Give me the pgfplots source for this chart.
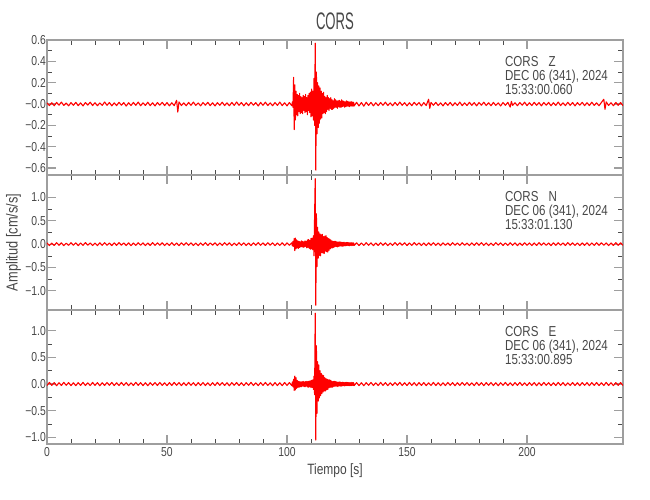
\documentclass[border=0pt]{standalone}
\usepackage{fontspec}
\setmainfont[FakeStretch=0.8]{Liberation Sans}
\newfontfamily\titlefont[FakeStretch=0.55]{Liberation Sans}
\usepackage{pgfplots}
\pgfplotsset{compat=1.18}

\definecolor{axgray}{gray}{0.62}
\definecolor{txtgray}{gray}{0.28}

\pgfplotsset{
  seis/.style={
    scale only axis, width=576bp, height=135bp,
    xmin=0, xmax=240,
    xtick={0,50,100,150,200}, minor x tick num=4,
    minor y tick num=1,
    axis line style={draw=axgray, line width=1.2bp},
    major tick length=9bp, minor tick length=5bp,
    major tick style={draw=axgray, line width=1.2bp},
    minor tick style={draw=black!70, line width=0.6bp},
    tick label style={font=\fontsize{13}{15}\selectfont, text=txtgray},
    yticklabel style={inner xsep=1bp},
    xlabel style={font=\fontsize{15}{17}\selectfont, text=txtgray},
    ylabel style={font=\fontsize{16}{18}\selectfont, text=txtgray},
    /pgf/number format/assume math mode=true,
  },
  trace/.style={red, line width=1.1bp, line join=round, mark=none},
}
\tikzset{stamp/.style={anchor=base west, inner sep=0pt, text=txtgray, font=\fontsize{14.5}{16}\selectfont}}

\begin{document}
\begin{tikzpicture}
\useasboundingbox (-47bp,40bp) rectangle (603bp,-460bp);

% --- Z component
\begin{axis}[seis, at={(0,0)}, anchor=north west,
  ymin=-0.665, ymax=0.6,
  ytick={-0.6,-0.4,-0.2,0,0.2,0.4,0.6},
  yticklabels={−0.6,−0.4,−0.2,−0.0,0.2,0.4,0.6},
  xticklabels={},
  title={CORS},
  title style={font=\titlefont\fontsize{24}{26}\selectfont, text=txtgray, inner sep=1bp, yshift=3bp}]
\addplot[trace] coordinates {
(0,.010) (1,-.014) (2,.012) (3,-.016) (4,.015) (5,-.011) (6,.018) (7,-.013) (8,.009) (9,-.017)
(10,.013) (11,-.012) (12,.016) (13,-.015) (14,.011) (15,-.018) (16,.014) (17,-.010) (18,.017) (19,-.014)
(20,.012) (21,-.016) (22,.010) (23,-.013) (24,.019) (25,-.012) (26,.014) (27,-.017) (28,.011) (29,-.015)
(30,.016) (31,-.011) (32,.013) (33,-.019) (34,.012) (35,-.014) (36,.015) (37,-.012) (38,.018) (39,-.016)
(40,.011) (41,-.013) (42,.017) (43,-.015) (44,.012) (45,-.018) (46,.014) (47,-.011) (48,.016) (49,-.014)
(50,.013) (51,-.017) (52,.012) (53,-.015) (54,.035) (54.5,-.075) (55,.02) (56,-.014) (57,.011) (58,-.016) (59,.015)
(60,-.012) (61,.018) (62,-.013) (63,.010) (64,-.017) (65,.014) (66,-.011) (67,.016) (68,-.015) (69,.012)
(70,-.018) (71,.013) (72,-.012) (73,.017) (74,-.014) (75,.011) (76,-.016) (77,.015) (78,-.013) (79,.019)
(80,-.012) (81,.014) (82,-.017) (83,.012) (84,-.015) (85,.016) (86,-.011) (87,.013) (88,-.018) (89,.015)
(90,-.012) (91,.017) (92,-.014) (93,.011) (94,-.016) (95,.014) (96,-.013) (97,.018) (98,-.015) (99,.012)
(100,-.017) (101,.014) (102,-.016)
(102.25,.02) (102.5,-.03) (102.75,.25) (103,-.24) (103.25,.18) (103.5,-.15) (103.75,.12) (104,-.10)
(104.25,.09) (104.5,-.11) (104.75,.08) (105,-.07) (105.25,.10) (105.5,-.09) (105.75,.07) (106,-.08)
(106.25,.06) (106.5,-.09) (106.75,.08) (107,-.06) (107.25,.07) (107.5,-.08) (107.75,.09) (108,-.07)
(108.25,.06) (108.5,-.10) (108.75,.08) (109,-.06) (109.25,.10) (109.5,-.08) (109.75,.11) (110,-.12)
(110.25,.14) (110.5,-.11) (110.75,.12) (111,-.15) (111.25,.24) (111.5,-.20) (111.75,.57) (112,-.62)
(112.25,.30) (112.5,-.28) (112.75,.20) (113,-.22) (113.25,.17) (113.5,-.18) (113.75,.15) (114,-.14)
(114.25,.12) (114.5,-.13) (114.75,.10) (115,-.09) (115.25,.11) (115.5,-.08) (115.75,.07) (116,-.09)
(116.25,.06) (116.5,-.07) (116.75,.08) (117,-.05) (117.25,.06) (117.5,-.06) (117.75,.05) (118,-.04)
(118.25,.06) (118.5,-.05) (118.75,.04) (119,-.05) (119.25,.03) (119.5,-.04) (119.75,.05) (120,-.03)
(120.25,.04) (120.5,-.03) (120.75,.03) (121,-.04) (121.25,.03) (121.5,-.025) (121.75,.035) (122,-.03)
(122.25,.025) (122.5,-.03) (122.75,.04) (123,-.025) (123.25,.03) (123.5,-.02) (123.75,.025) (124,-.03)
(124.25,.02) (124.5,-.025) (124.75,.03) (125,-.02) (125.25,.025) (125.5,-.02) (125.75,.02) (126,-.025)
(126.25,.02) (126.5,-.018) (126.75,.022) (127,-.02) (127.25,.018) (127.5,-.02) (127.75,.017) (128,-.018)
(129,.016) (130,-.018) (131,.014) (132,-.020) (133,.017) (134,-.013) (135,.015) (136,-.017) (137,.012) (138,-.015)
(139,.014) (140,-.012) (141,.017) (142,-.014) (143,.011) (144,-.016) (145,.015) (146,-.013) (147,.018) (148,-.012)
(149,.013) (150,-.017) (151,.012) (152,-.015) (153,.016) (154,-.011) (155,.014) (156,-.018) (157,.013) (158,-.014)
(159,.045) (159.5,-.04) (160,.015) (161,-.012) (162,.016) (163,-.014) (164,.011) (165,-.017) (166,.014) (167,-.012)
(168,.015) (169,-.016) (170,.012) (171,-.013) (172,.018) (173,-.015) (174,.011) (175,-.014) (176,.016) (177,-.012)
(178,.013) (179,-.017) (180,.014) (181,-.011) (182,.017) (183,-.014) (184,.012) (185,-.016) (186,.015) (187,-.013)
(188,.011) (189,-.018) (190,.014) (191,-.012) (192,.016) (193,-.028) (193.5,.025) (194,-.013) (195,.012) (196,-.016)
(197,.014) (198,-.011) (199,.017) (200,-.015) (201,.012) (202,-.014) (203,.016) (204,-.012) (205,.013) (206,-.017)
(207,.014) (208,-.011) (209,.015) (210,-.016) (211,.012) (212,-.013) (213,.018) (214,-.014) (215,.011) (216,-.015)
(217,.016) (218,-.012) (219,.014) (220,-.017) (221,.013) (222,-.011) (223,.016) (224,-.015) (225,.012) (226,-.014)
(227,.017) (228,-.013) (229,.011) (230,-.016) (231,.014) (232,.045) (232.5,-.05) (233,.02) (234,-.013) (235,.012)
(236,-.016) (237,.015) (238,-.012) (239,.014) (240,-.015)
};
\node[stamp] at (rel axis cs:0.795,1) [yshift=-26bp] {CORS\hspace{10bp}Z};
\node[stamp] at (rel axis cs:0.795,1) [yshift=-40bp] {DEC 06 (341), 2024};
\node[stamp] at (rel axis cs:0.795,1) [yshift=-54bp] {15:33:00.060};
\end{axis}

% --- N component
\begin{axis}[seis, at={(0,-135bp)}, anchor=north west,
  ymin=-1.41, ymax=1.48,
  ytick={-1,-0.5,0,0.5,1},
  yticklabels={−1.0,−0.5,0.0,0.5,1.0},
  xticklabels={},
  ylabel={Amplitud [cm/s/s]}]
\addplot[trace] coordinates {
(0,.025) (1,-.030) (2,.022) (3,-.028) (4,.032) (5,-.024) (6,.027) (7,-.033) (8,.021) (9,-.026)
(10,.030) (11,-.023) (12,.028) (13,-.031) (14,.024) (15,-.027) (16,.033) (17,-.022) (18,.026) (19,-.029)
(20,.023) (21,-.032) (22,.029) (23,-.025) (24,.031) (25,-.024) (26,.022) (27,-.030) (28,.027) (29,-.026)
(30,.032) (31,-.023) (32,.025) (33,-.029) (34,.028) (35,-.033) (36,.024) (37,-.027) (38,.030) (39,-.022)
(40,.026) (41,-.031) (42,.023) (43,-.028) (44,.033) (45,-.025) (46,.027) (47,-.024) (48,.029) (49,-.030)
(50,.022) (51,-.027) (52,.031) (53,-.026) (54,.024) (55,-.032) (56,.028) (57,-.023) (58,.030) (59,-.025)
(60,.027) (61,-.029) (62,.023) (63,-.031) (64,.026) (65,-.024) (66,.032) (67,-.028) (68,.025) (69,-.022)
(70,.029) (71,-.030) (72,.024) (73,-.026) (74,.031) (75,-.023) (76,.028) (77,-.033) (78,.022) (79,-.027)
(80,.030) (81,-.025) (82,.026) (83,-.029) (84,.023) (85,-.031) (86,.027) (87,-.024) (88,.032) (89,-.026)
(90,.025) (91,-.028) (92,.030) (93,-.023) (94,.027) (95,-.032) (96,.024) (97,-.026) (98,.029) (99,-.031)
(100,.026) (101,-.024) (102,.030)
(102.25,-.04) (102.5,.06) (102.75,-.05) (103,.12) (103.25,-.14) (103.5,.13) (103.75,-.10) (104,.09)
(104.25,-.08) (104.5,.07) (104.75,-.09) (105,.06) (105.25,-.07) (105.5,.05) (105.75,-.06) (106,.07)
(106.25,-.05) (106.5,.06) (106.75,-.07) (107,.05) (107.25,-.06) (107.5,.07) (107.75,-.05) (108,.06)
(108.25,-.08) (108.5,.09) (108.75,-.07) (109,.10) (109.25,-.09) (109.5,.08) (109.75,-.11) (110,.12)
(110.25,-.10) (110.5,.13) (110.75,-.12) (111,.18) (111.25,-.25) (111.5,.60) (111.75,1.40) (112,-1.31)
(112.25,.65) (112.5,-.48) (112.75,.36) (113,-.30) (113.25,.26) (113.5,-.24) (113.75,.22) (114,-.25)
(114.25,.20) (114.5,-.18) (114.75,.21) (115,-.19) (115.25,.16) (115.5,-.20) (115.75,.17) (116,-.15)
(116.25,.18) (116.5,-.16) (116.75,.14) (117,-.17) (117.25,.12) (117.5,-.13) (117.75,.11) (118,-.10)
(118.25,.09) (118.5,-.08) (118.75,.07) (119,-.08) (119.25,.06) (119.5,-.07) (119.75,.06) (120,-.05)
(120.25,.06) (120.5,-.05) (120.75,.05) (121,-.06) (121.25,.04) (121.5,-.05) (121.75,.05) (122,-.04)
(122.25,.045) (122.5,-.04) (122.75,.04) (123,-.045) (123.25,.035) (123.5,-.04) (123.75,.04) (124,-.035)
(124.25,.03) (124.5,-.035) (124.75,.035) (125,-.03) (125.25,.035) (125.5,-.03) (125.75,.03) (126,-.035)
(126.25,.03) (126.5,-.028) (126.75,.03) (127,-.03) (127.25,.027) (127.5,-.03) (127.75,.028) (128,-.027)
(129,.028) (130,-.030) (131,.024) (132,-.027) (133,.031) (134,-.025) (135,.026) (136,-.032) (137,.023) (138,-.028) (139,.030)
(140,-.024) (141,.027) (142,-.031) (143,.022) (144,-.026) (145,.033) (146,-.025) (147,.028) (148,-.023) (149,.029)
(150,-.030) (151,.024) (152,-.027) (153,.032) (154,-.022) (155,.026) (156,-.029) (157,.025) (158,-.031) (159,.027)
(160,-.024) (161,.030) (162,-.026) (163,.023) (164,-.032) (165,.028) (166,-.025) (167,.024) (168,-.029) (169,.031)
(170,-.023) (171,.026) (172,-.028) (173,.030) (174,-.025) (175,.022) (176,-.031) (177,.027) (178,-.026) (179,.029)
(180,-.024) (181,.032) (182,-.027) (183,.025) (184,-.030) (185,.023) (186,-.028) (187,.031) (188,-.022) (189,.027)
(190,-.029) (191,.024) (192,-.026) (193,.030) (194,-.025) (195,.028) (196,-.032) (197,.023) (198,-.027) (199,.029)
(200,-.024) (201,.026) (202,-.030) (203,.025) (204,-.028) (205,.031) (206,-.023) (207,.027) (208,-.026) (209,.024)
(210,-.031) (211,.028) (212,-.025) (213,.030) (214,-.022) (215,.026) (216,-.029) (217,.032) (218,-.024) (219,.027)
(220,-.028) (221,.023) (222,-.030) (223,.025) (224,-.026) (225,.029) (226,-.031) (227,.024) (228,-.027) (229,.030)
(230,-.025) (231,.028) (232,-.023) (233,.026) (234,-.030) (235,.024) (236,-.027) (237,.031) (238,-.025) (239,.028) (240,-.026)
};
\node[stamp] at (rel axis cs:0.795,1) [yshift=-26bp] {CORS\hspace{10bp}N};
\node[stamp] at (rel axis cs:0.795,1) [yshift=-40bp] {DEC 06 (341), 2024};
\node[stamp] at (rel axis cs:0.795,1) [yshift=-54bp] {15:33:01.130};
\end{axis}

% --- E component
\begin{axis}[seis, at={(0,-270bp)}, anchor=north west, height=134bp,
  ymin=-1.125, ymax=1.39,
  ytick={-1,-0.5,0,0.5,1},
  yticklabels={−1.0,−0.5,0.0,0.5,1.0},
  xticklabels={0,50,100,150,200},
  xlabel={Tiempo [s]}]
\addplot[trace] coordinates {
(0,-.027) (1,.030) (2,-.024) (3,.028) (4,-.031) (5,.025) (6,-.026) (7,.032) (8,-.023) (9,.027)
(10,-.029) (11,.024) (12,-.030) (13,.026) (14,-.025) (15,.031) (16,-.027) (17,.023) (18,-.028) (19,.030)
(20,-.024) (21,.027) (22,-.032) (23,.025) (24,-.026) (25,.029) (26,-.023) (27,.031) (28,-.028) (29,.024)
(30,-.027) (31,.030) (32,-.025) (33,.028) (34,-.030) (35,.023) (36,-.026) (37,.032) (38,-.024) (39,.027)
(40,-.029) (41,.025) (42,-.031) (43,.026) (44,-.023) (45,.028) (46,-.027) (47,.030) (48,-.025) (49,.024)
(50,-.030) (51,.027) (52,-.026) (53,.031) (54,-.024) (55,.028) (56,-.029) (57,.025) (58,-.027) (59,.030)
(60,-.023) (61,.026) (62,-.031) (63,.027) (64,-.025) (65,.029) (66,-.028) (67,.024) (68,-.030) (69,.026)
(70,-.027) (71,.031) (72,-.024) (73,.028) (74,-.026) (75,.025) (76,-.032) (77,.027) (78,-.023) (79,.029)
(80,-.028) (81,.025) (82,-.030) (83,.026) (84,-.024) (85,.031) (86,-.027) (87,.023) (88,-.029) (89,.028)
(90,-.025) (91,.030) (92,-.026) (93,.024) (94,-.031) (95,.027) (96,-.028) (97,.025) (98,-.030) (99,.029)
(100,-.026) (101,.028) (102,-.030)
(102.25,.04) (102.5,-.05) (102.75,.09) (103,-.12) (103.25,.15) (103.5,-.11) (103.75,.12) (104,-.08)
(104.25,.07) (104.5,-.06) (104.75,.05) (105,-.06) (105.25,.045) (105.5,-.05) (105.75,.04) (106,-.05)
(106.25,.045) (106.5,-.04) (106.75,.05) (107,-.045) (107.25,.04) (107.5,-.05) (107.75,.045) (108,-.04)
(108.25,.05) (108.5,-.055) (108.75,.05) (109,-.06) (109.25,.055) (109.5,-.05) (109.75,.06) (110,-.065)
(110.25,.07) (110.5,-.06) (110.75,.08) (111,-.10) (111.25,.15) (111.5,-.20) (111.75,1.33) (112,-1.05)
(112.25,.72) (112.5,-.55) (112.75,.42) (113,-.32) (113.25,.36) (113.5,-.26) (113.75,.25) (114,-.22)
(114.25,.20) (114.5,-.18) (114.75,.17) (115,-.15) (115.25,.16) (115.5,-.13) (115.75,.12) (116,-.13)
(116.25,.10) (116.5,-.11) (116.75,.09) (117,-.10) (117.25,.08) (117.5,-.07) (117.75,.08) (118,-.06)
(118.25,.07) (118.5,-.06) (118.75,.05) (119,-.06) (119.25,.05) (119.5,-.045) (119.75,.05) (120,-.04)
(120.25,.045) (120.5,-.04) (120.75,.04) (121,-.045) (121.25,.035) (121.5,-.04) (121.75,.04) (122,-.035)
(122.25,.035) (122.5,-.04) (122.75,.03) (123,-.035) (123.25,.035) (123.5,-.03) (123.75,.03) (124,-.035)
(124.25,.03) (124.5,-.03) (124.75,.032) (125,-.028) (125.25,.03) (125.5,-.03) (125.75,.028) (126,-.03)
(126.25,.027) (126.5,-.028) (126.75,.03) (127,-.027) (127.25,.028) (127.5,-.026) (127.75,.027) (128,-.028)
(129,.027) (130,-.029) (131,.025) (132,-.031) (133,.026) (134,-.024) (135,.030) (136,-.027) (137,.023) (138,-.028) (139,.031)
(140,-.025) (141,.027) (142,-.030) (143,.024) (144,-.026) (145,.029) (146,-.023) (147,.032) (148,-.027) (149,.025)
(150,-.028) (151,.030) (152,-.024) (153,.026) (154,-.031) (155,.027) (156,-.025) (157,.028) (158,-.029) (159,.023)
(160,-.026) (161,.031) (162,-.027) (163,.025) (164,-.030) (165,.024) (166,-.028) (167,.029) (168,-.023) (169,.027)
(170,-.031) (171,.025) (172,-.026) (173,.030) (174,-.024) (175,.028) (176,-.027) (177,.023) (178,-.029) (179,.031)
(180,-.025) (181,.026) (182,-.030) (183,.027) (184,-.024) (185,.029) (186,-.028) (187,.025) (188,-.031) (189,.026)
(190,-.023) (191,.030) (192,-.027) (193,.024) (194,-.029) (195,.028) (196,-.025) (197,.031) (198,-.026) (199,.023)
(200,-.030) (201,.027) (202,-.024) (203,.028) (204,-.031) (205,.025) (206,-.027) (207,.030) (208,-.023) (209,.026)
(210,-.029) (211,.024) (212,-.028) (213,.031) (214,-.025) (215,.027) (216,-.030) (217,.023) (218,-.026) (219,.029)
(220,-.027) (221,.025) (222,-.031) (223,.028) (224,-.024) (225,.026) (226,-.030) (227,.027) (228,-.025) (229,.029)
(230,-.028) (231,.024) (232,-.027) (233,.031) (234,-.026) (235,.025) (236,-.029) (237,.027) (238,-.024) (239,.028) (240,-.027)
};
\node[stamp] at (rel axis cs:0.795,1) [yshift=-26bp] {CORS\hspace{10bp}E};
\node[stamp] at (rel axis cs:0.795,1) [yshift=-40bp] {DEC 06 (341), 2024};
\node[stamp] at (rel axis cs:0.795,1) [yshift=-54bp] {15:33:00.895};
\end{axis}
\end{tikzpicture}
\end{document}
